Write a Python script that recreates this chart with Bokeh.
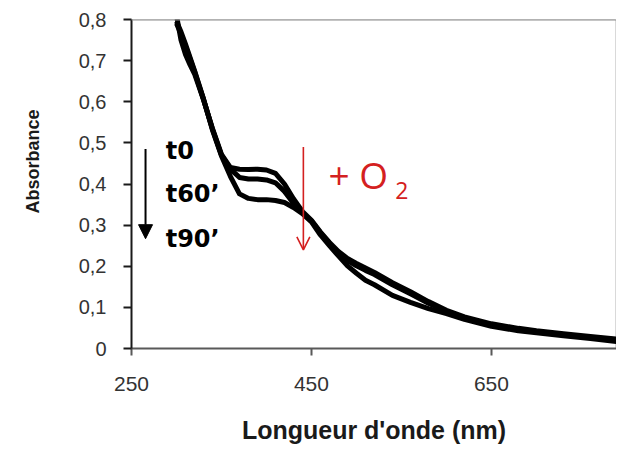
from bokeh.plotting import figure
from bokeh.models import Label, Arrow, NormalHead, OpenHead, FixedTicker, Range1d, Span
from bokeh.embed import file_html
from bokeh.resources import INLINE

# ---- data ----
wavelength = [300, 305, 310, 315, 320, 330, 340, 350, 360, 370, 380, 390, 400,
              410, 420, 430, 440, 450, 460, 470, 480, 490, 500, 510, 520, 540,
              560, 580, 600, 620, 650, 680, 700, 730, 760, 789]
abs_t0 = [0.810, 0.750, 0.715, 0.690, 0.668, 0.605, 0.535, 0.472, 0.440, 0.436,
          0.435, 0.436, 0.434, 0.426, 0.400, 0.364, 0.333, 0.312, 0.283, 0.258,
          0.236, 0.219, 0.207, 0.196, 0.185, 0.160, 0.138, 0.114, 0.093, 0.077,
          0.060, 0.049, 0.043, 0.036, 0.029, 0.023]
abs_t60 = [0.790, 0.765, 0.735, 0.705, 0.674, 0.606, 0.533, 0.470, 0.436, 0.416,
           0.412, 0.412, 0.410, 0.403, 0.382, 0.353, 0.329, 0.310, 0.281, 0.255,
           0.232, 0.214, 0.201, 0.190, 0.180, 0.155, 0.133, 0.110, 0.090, 0.074,
           0.057, 0.046, 0.041, 0.034, 0.027, 0.021]
abs_t90 = [0.795, 0.770, 0.740, 0.708, 0.676, 0.607, 0.531, 0.468, 0.418, 0.376,
           0.365, 0.362, 0.362, 0.360, 0.355, 0.343, 0.328, 0.308, 0.276, 0.250,
           0.225, 0.201, 0.183, 0.166, 0.155, 0.129, 0.112, 0.097, 0.085, 0.071,
           0.054, 0.043, 0.038, 0.031, 0.024, 0.017]

series_labels = ["t0", "t60\u2019", "t90\u2019"]
y_ticks = [0, 0.1, 0.2, 0.3, 0.4, 0.5, 0.6, 0.7, 0.8]
y_tick_labels = ["0", "0,1", "0,2", "0,3", "0,4", "0,5", "0,6", "0,7", "0,8"]
x_ticks = [250, 450, 650]
x_tick_labels = ["250", "450", "650"]

p = figure(width=616, height=446, output_backend="svg", toolbar_location=None,
           x_range=Range1d(250, 789), y_range=Range1d(0, 0.8),
           min_border_left=131, min_border_right=0, min_border_top=19,
           min_border_bottom=97)

p.xgrid.visible = False
p.ygrid.visible = False
p.outline_line_color = "#d9d9d9"
p.outline_line_width = 1
p.background_fill_color = "white"
p.border_fill_color = "white"

for s in (abs_t0, abs_t60, abs_t90):
    p.line(wavelength, s, line_color="black", line_width=5, line_join="round")

# top border of plot area
p.add_layout(Span(location=0.8, dimension="width", line_color="#8c8c8c", line_width=2))

# axes
p.xaxis.ticker = FixedTicker(ticks=x_ticks)
p.xaxis.major_label_overrides = dict(zip(x_ticks, x_tick_labels))
p.yaxis.ticker = FixedTicker(ticks=y_ticks)
p.yaxis.major_label_overrides = dict(zip(y_ticks, y_tick_labels))
for ax in (p.xaxis[0], p.yaxis[0]):
    ax.minor_tick_line_color = None
    ax.major_tick_in = 0
    ax.major_label_text_font = "Liberation Sans"
    ax.major_label_text_color = "#333333"
    ax.axis_label_text_font = "Liberation Sans"
    ax.axis_label_text_font_style = "bold"
    ax.axis_label_text_color = "#1a1a1a"
    ax.axis_line_width = 2
    ax.major_tick_line_width = 2

p.yaxis.axis_line_color = "#1a1a1a"
p.yaxis.major_tick_line_color = "#1a1a1a"
p.yaxis.major_tick_out = 8
p.yaxis.major_label_standoff = 17
p.yaxis.major_label_text_font_size = "20px"
# leading no-break spaces shift the centred title upward, as in the original
p.yaxis.axis_label = "\u00a0" * 9 + "Absorbance"
p.yaxis.axis_label_text_font_size = "18px"
p.yaxis.axis_label_standoff = 33

p.xaxis.axis_line_color = "#595959"
p.xaxis.major_tick_line_color = "#595959"
p.xaxis.major_tick_out = 7
p.xaxis.major_label_standoff = 21
p.xaxis.major_label_text_font_size = "21px"
p.xaxis.axis_label = "Longueur d'onde (nm)"
p.xaxis.axis_label_text_font_size = "25px"
p.xaxis.axis_label_standoff = 22

# annotations: time labels and black arrow
label_y = [0.48, 0.376, 0.267]
for txt, yy in zip(series_labels, label_y):
    p.add_layout(Label(x=288, y=yy, text=txt, text_font="DejaVu Sans",
                       text_font_style="bold", text_font_size="24px",
                       text_color="black", text_baseline="middle"))

p.add_layout(Arrow(x_start=265.6, y_start=0.485, x_end=265.6, y_end=0.267,
                   line_color="black", line_width=2,
                   end=NormalHead(size=14, fill_color="black", line_color="black")))

# red arrow and + O2
red = "#d42020"
p.add_layout(Arrow(x_start=441, y_start=0.49, x_end=441, y_end=0.24,
                   line_color=red, line_width=1.6,
                   end=OpenHead(size=13, line_color=red, line_width=1.6)))
p.add_layout(Label(x=469, y=0.424, text="+ O", text_font="Open Sans",
                   text_font_size="37px", text_color=red, text_baseline="middle"))
p.add_layout(Label(x=543, y=0.384, text="2", text_font="Open Sans",
                   text_font_size="23px", text_color=red, text_baseline="middle"))

open("out.html", "w").write(file_html(p, INLINE))
